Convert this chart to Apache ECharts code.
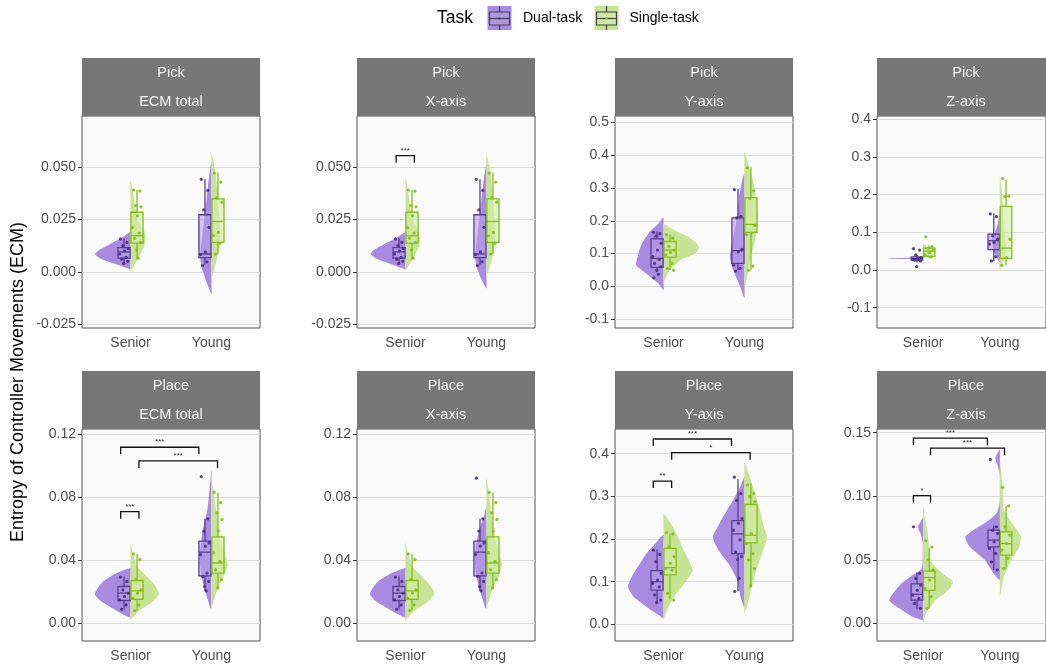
<!DOCTYPE html>
<html>
<head>
<meta charset="utf-8">
<script src="https://cdn.jsdelivr.net/npm/echarts@6/dist/echarts.min.js"></script>
<style>
  html, body { margin: 0; padding: 0; background: #fff; }
  #chart { width: 1046px; height: 666px; }
</style>
</head>
<body>
<div id="chart"></div>
<script>
const categories = ['Senior', 'Young'];
const tasks = ['Dual-task', 'Single-task'];
// group order in every panel: Senior dual, Senior single, Young dual, Young single
// boxes: [lower whisker, q1, median, q3, upper whisker]
// violins: [value, half width in x units]

// Pick / ECM total
const pickTotalTicks = [-0.025, 0, 0.025, 0.05];
const pickTotalBoxes = [
  [0.004, 0.0065, 0.0095, 0.0115, 0.016],
  [0.006, 0.0137, 0.0172, 0.0284, 0.039],
  [0.0035, 0.0068, 0.0085, 0.0272, 0.0441],
  [0.0085, 0.014, 0.024, 0.0348, 0.0473]
];
const pickTotalPoints = [
  [0.0157, 0.014, 0.0125, 0.011, 0.010, 0.0085, 0.0069, 0.006, 0.005, 0.004],
  [0.039, 0.0385, 0.0316, 0.031, 0.0267, 0.021, 0.0185, 0.016, 0.014, 0.0105, 0.0065],
  [0.0441, 0.0388, 0.0295, 0.0212, 0.0095, 0.0082, 0.0048, 0.003],
  [0.0471, 0.0428, 0.0353, 0.0332, 0.0188, 0.0172, 0.0136, 0.0085]
];
const pickTotalViolins = [
  [[0.019, 0], [0.0165, 0.1], [0.0133, 0.25], [0.0105, 0.38], [0.0085, 0.44], [0.0065, 0.38], [0.0045, 0.25], [0.0025, 0.1], [0.0012, 0]],
  [[0.0435, 0], [0.038, 0.03], [0.03, 0.06], [0.024, 0.1], [0.0185, 0.18], [0.015, 0.185], [0.0115, 0.16], [0.0055, 0.08], [0, 0]],
  [[0.0525, 0], [0.045, 0.03], [0.035, 0.06], [0.025, 0.09], [0.015, 0.12], [0.007, 0.14], [0.002, 0.12], [-0.004, 0.07], [-0.0105, 0]],
  [[0.0565, 0], [0.05, 0.04], [0.04, 0.07], [0.03, 0.09], [0.02, 0.11], [0.012, 0.1], [0.005, 0.06], [-0.0028, 0]]
];
const pickTotalBrackets = [];

// Pick / X-axis
const pickXTicks = [-0.025, 0, 0.025, 0.05];
const pickXBoxes = [
  [0.004, 0.0065, 0.0095, 0.0115, 0.016],
  [0.006, 0.0137, 0.0172, 0.0284, 0.039],
  [0.0035, 0.0068, 0.0085, 0.0272, 0.0441],
  [0.0085, 0.014, 0.024, 0.0348, 0.0473]
];
const pickXPoints = [
  [0.0157, 0.014, 0.0125, 0.011, 0.010, 0.0085, 0.0069, 0.006, 0.005, 0.004],
  [0.039, 0.0385, 0.0316, 0.031, 0.0267, 0.021, 0.0185, 0.016, 0.014, 0.0105, 0.0065],
  [0.0441, 0.0388, 0.0295, 0.0212, 0.0095, 0.0082, 0.0048, 0.003],
  [0.0471, 0.0428, 0.0353, 0.0332, 0.0188, 0.0172, 0.0136, 0.0085]
];
const pickXViolins = [
  [[0.019, 0], [0.0165, 0.1], [0.0133, 0.26], [0.0105, 0.39], [0.0085, 0.43], [0.0065, 0.37], [0.0045, 0.24], [0.0025, 0.1], [0.0012, 0]],
  [[0.045, 0], [0.039, 0.03], [0.03, 0.06], [0.024, 0.1], [0.0185, 0.17], [0.015, 0.18], [0.0115, 0.16], [0.0055, 0.08], [0.001, 0]],
  [[0.051, 0], [0.045, 0.03], [0.035, 0.06], [0.025, 0.09], [0.015, 0.12], [0.007, 0.14], [0.002, 0.12], [-0.003, 0.07], [-0.008, 0]],
  [[0.0556, 0], [0.05, 0.04], [0.04, 0.07], [0.03, 0.09], [0.02, 0.11], [0.012, 0.1], [0.005, 0.06], [-0.002, 0]]
];
const pickXBrackets = [[0.883, 1.109, 0.0554, '***']];

// Pick / Y-axis
const pickYTicks = [-0.1, 0, 0.1, 0.2, 0.3, 0.4, 0.5];
const pickYBoxes = [
  [0.05, 0.058, 0.0856, 0.145, 0.168],
  [0.05, 0.089, 0.111, 0.137, 0.158],
  [0.05, 0.07, 0.109, 0.209, 0.297],
  [0.049, 0.165, 0.189, 0.271, 0.364]
];
const pickYPoints = [
  [0.165, 0.161, 0.153, 0.132, 0.111, 0.091, 0.082, 0.07, 0.06, 0.049, 0.037, 0.026],
  [0.158, 0.147, 0.122, 0.111, 0.103, 0.096, 0.07, 0.055, 0.049],
  [0.295, 0.214, 0.209, 0.113, 0.106, 0.065, 0.055, 0.047],
  [0.362, 0.292, 0.268, 0.186, 0.163, 0.158, 0.062, 0.049]
];
const pickYViolins = [
  [[0.21, 0], [0.19, 0.07], [0.17, 0.16], [0.13, 0.27], [0.09, 0.32], [0.065, 0.34], [0.04, 0.22], [0.01, 0.07], [-0.012, 0]],
  [[0.19, 0], [0.173, 0.12], [0.153, 0.29], [0.132, 0.41], [0.118, 0.44], [0.1, 0.39], [0.08, 0.21], [0.05, 0.08], [0.013, 0]],
  [[0.345, 0], [0.32, 0.03], [0.27, 0.07], [0.21, 0.09], [0.15, 0.14], [0.09, 0.18], [0.05, 0.14], [0.01, 0.07], [-0.035, 0]],
  [[0.41, 0], [0.37, 0.05], [0.32, 0.11], [0.27, 0.14], [0.2, 0.17], [0.14, 0.13], [0.09, 0.08], [0.04, 0.04], [-0.012, 0]]
];
const pickYBrackets = [];

// Pick / Z-axis
const pickZTicks = [-0.1, 0, 0.1, 0.2, 0.3, 0.4];
const pickZBoxes = [
  [0.02, 0.026, 0.03, 0.035, 0.04],
  [0.031, 0.036, 0.05, 0.058, 0.065],
  [0.024, 0.054, 0.0777, 0.0955, 0.151],
  [0.0125, 0.031, 0.058, 0.169, 0.24]
];
const pickZPoints = [
  [0.057, 0.053, 0.04, 0.033, 0.031, 0.029, 0.028, 0.026, 0.024, 0.009],
  [0.088, 0.062, 0.058, 0.053, 0.046, 0.04, 0.035],
  [0.149, 0.142, 0.091, 0.082, 0.073, 0.069, 0.035, 0.024],
  [0.243, 0.196, 0.195, 0.082, 0.033, 0.0125]
];
const pickZViolins = [
  [[0.034, 0], [0.0325, 0.1], [0.0316, 0.43], [0.0298, 0.43], [0.029, 0.1], [0.027, 0]],
  [[0.07, 0], [0.06, 0.06], [0.05, 0.12], [0.04, 0.1], [0.032, 0]],
  [[0.16, 0], [0.12, 0.03], [0.08, 0.1], [0.05, 0.08], [0.02, 0]],
  [[0.25, 0], [0.2, 0.03], [0.1, 0.06], [0.05, 0.08], [0.0, 0]]
];
const pickZBrackets = [];

// Place / ECM total
const placeTotalTicks = [0, 0.04, 0.08, 0.12];
const placeTotalBoxes = [
  [0.0087, 0.0143, 0.019, 0.0232, 0.0296],
  [0.0079, 0.0151, 0.0204, 0.027, 0.0439],
  [0.0204, 0.030, 0.045, 0.052, 0.0662],
  [0.0222, 0.0317, 0.0381, 0.0547, 0.0829]
];
const placeTotalPoints = [
  [0.0292, 0.0264, 0.021, 0.019, 0.0168, 0.0147, 0.0115, 0.0087],
  [0.0439, 0.0403, 0.0275, 0.0211, 0.019, 0.0158, 0.0115, 0.0079],
  [0.093, 0.0662, 0.0584, 0.0509, 0.0488, 0.0435, 0.0317, 0.0296, 0.0264, 0.0232, 0.0204],
  [0.0829, 0.0765, 0.070, 0.0658, 0.0584, 0.0445, 0.0392, 0.0339, 0.0275, 0.0222]
];
const placeTotalViolins = [
  [[0.035, 0], [0.0317, 0.17], [0.0264, 0.34], [0.021, 0.42], [0.018, 0.44], [0.0136, 0.36], [0.0083, 0.19], [0.0045, 0.05], [0.0035, 0]],
  [[0.05, 0], [0.0445, 0.03], [0.036, 0.08], [0.0317, 0.16], [0.0253, 0.28], [0.019, 0.35], [0.0136, 0.28], [0.0083, 0.12], [0.003, 0.02], [0.001, 0]],
  [[0.097, 0], [0.087, 0.02], [0.072, 0.05], [0.057, 0.115], [0.04, 0.145], [0.0275, 0.115], [0.019, 0.07], [0.0105, 0.02], [0.009, 0]],
  [[0.09, 0], [0.083, 0.03], [0.07, 0.06], [0.057, 0.09], [0.0445, 0.16], [0.037, 0.2], [0.0296, 0.15], [0.021, 0.07], [0.0126, 0.02], [0.011, 0]]
];
const placeTotalBrackets = [
  [0.878, 1.104, 0.0707, '***'],
  [0.878, 1.844, 0.1116, '***'],
  [1.104, 2.075, 0.1029, '***']
];

// Place / X-axis
const placeXTicks = [0, 0.04, 0.08, 0.12];
const placeXBoxes = [
  [0.0087, 0.0143, 0.019, 0.0232, 0.0296],
  [0.0079, 0.0151, 0.0204, 0.027, 0.0439],
  [0.0204, 0.030, 0.045, 0.052, 0.0662],
  [0.0222, 0.0317, 0.0381, 0.0547, 0.0829]
];
const placeXPoints = [
  [0.0292, 0.0264, 0.021, 0.019, 0.0168, 0.0147, 0.0115, 0.0087],
  [0.0439, 0.0403, 0.0275, 0.0211, 0.019, 0.0158, 0.0115, 0.0079],
  [0.092, 0.0662, 0.0584, 0.0509, 0.0488, 0.0435, 0.0317, 0.0296, 0.0264, 0.0232, 0.0204],
  [0.0829, 0.0765, 0.070, 0.0658, 0.0584, 0.0445, 0.0392, 0.0339, 0.0275, 0.0222]
];
const placeXViolins = [
  [[0.035, 0], [0.0317, 0.17], [0.0264, 0.34], [0.021, 0.42], [0.018, 0.44], [0.0136, 0.36], [0.0083, 0.19], [0.0045, 0.05], [0.0035, 0]],
  [[0.051, 0], [0.0445, 0.03], [0.036, 0.08], [0.0317, 0.16], [0.0253, 0.28], [0.019, 0.36], [0.0136, 0.28], [0.0083, 0.12], [0.003, 0.02], [0.0005, 0]],
  [[0.074, 0], [0.068, 0.03], [0.057, 0.1], [0.04, 0.145], [0.0275, 0.115], [0.019, 0.07], [0.0105, 0.02], [0.009, 0]],
  [[0.092, 0], [0.083, 0.03], [0.07, 0.06], [0.057, 0.09], [0.0445, 0.16], [0.037, 0.19], [0.0296, 0.15], [0.021, 0.07], [0.0126, 0.02], [0.011, 0]]
];
const placeXBrackets = [];

// Place / Y-axis
const placeYTicks = [0, 0.1, 0.2, 0.3, 0.4];
const placeYBoxes = [
  [0.051, 0.0805, 0.1, 0.126, 0.176],
  [0.059, 0.116, 0.133, 0.178, 0.213],
  [0.077, 0.166, 0.212, 0.243, 0.34],
  [0.09, 0.191, 0.209, 0.281, 0.33]
];
const placeYPoints = [
  [0.174, 0.164, 0.147, 0.12, 0.104, 0.096, 0.088, 0.069, 0.057, 0.051],
  [0.215, 0.212, 0.182, 0.159, 0.143, 0.131, 0.127, 0.073, 0.057],
  [0.345, 0.307, 0.291, 0.248, 0.237, 0.221, 0.198, 0.17, 0.159, 0.152, 0.108, 0.077],
  [0.327, 0.307, 0.299, 0.288, 0.213, 0.19, 0.166, 0.151, 0.131, 0.09]
];
const placeYViolins = [
  [[0.21, 0], [0.19, 0.1], [0.166, 0.21], [0.143, 0.29], [0.112, 0.39], [0.088, 0.44], [0.065, 0.37], [0.041, 0.21], [0.022, 0.06], [0.014, 0]],
  [[0.26, 0], [0.245, 0.06], [0.213, 0.16], [0.182, 0.23], [0.151, 0.31], [0.127, 0.36], [0.104, 0.29], [0.073, 0.16], [0.041, 0.06], [0.014, 0]],
  [[0.346, 0], [0.323, 0.05], [0.291, 0.14], [0.26, 0.24], [0.229, 0.33], [0.205, 0.39], [0.174, 0.32], [0.143, 0.2], [0.104, 0.09], [0.065, 0.05], [0.04, 0]],
  [[0.381, 0], [0.354, 0.05], [0.307, 0.13], [0.268, 0.19], [0.229, 0.24], [0.205, 0.28], [0.174, 0.23], [0.135, 0.16], [0.088, 0.09], [0.049, 0.04], [0.026, 0]]
];
const placeYBrackets = [
  [0.873, 1.1, 0.336, '**'],
  [0.873, 1.84, 0.4345, '***'],
  [1.1, 2.07, 0.4024, '*']
];

// Place / Z-axis
const placeZTicks = [0, 0.05, 0.1, 0.15];
const placeZBoxes = [
  [0.011, 0.0183, 0.0228, 0.031, 0.04],
  [0.0118, 0.026, 0.036, 0.041, 0.059],
  [0.042, 0.0602, 0.0655, 0.0733, 0.077],
  [0.0427, 0.0537, 0.0628, 0.072, 0.0924]
];
const placeZPoints = [
  [0.076, 0.0393, 0.0353, 0.030, 0.026, 0.0223, 0.0196, 0.0157, 0.0118],
  [0.065, 0.06, 0.05, 0.042, 0.034, 0.0275, 0.021, 0.0118],
  [0.129, 0.0759, 0.0733, 0.0707, 0.0641, 0.0589, 0.055, 0.0484, 0.042],
  [0.107, 0.0924, 0.0759, 0.0694, 0.0628, 0.0576, 0.051, 0.0432]
];
const placeZViolins = [
  [[0.083, 0], [0.08, 0.03], [0.076, 0.07], [0.071, 0.035], [0.064, 0.006], [0.05, 0.006], [0.043, 0.02], [0.039, 0.11], [0.031, 0.29], [0.0236, 0.39], [0.018, 0.44], [0.0118, 0.31], [0.005, 0.13], [0.0026, 0]],
  [[0.092, 0], [0.084, 0.02], [0.071, 0.06], [0.058, 0.08], [0.047, 0.12], [0.039, 0.26], [0.0327, 0.39], [0.026, 0.33], [0.018, 0.16], [0.0079, 0.04], [0, 0]],
  [[0.137, 0], [0.134, 0.03], [0.13, 0.06], [0.124, 0.03], [0.118, 0.004], [0.095, 0.004], [0.087, 0.04], [0.08, 0.17], [0.074, 0.33], [0.068, 0.45], [0.06, 0.39], [0.05, 0.2], [0.039, 0.08], [0.034, 0]],
  [[0.128, 0], [0.118, 0.02], [0.102, 0.04], [0.089, 0.05], [0.081, 0.13], [0.069, 0.27], [0.06, 0.25], [0.05, 0.15], [0.037, 0.05], [0.024, 0.01], [0.021, 0]]
];
const placeZBrackets = [
  [0.874, 1.097, 0.1005, '*'],
  [0.874, 1.837, 0.1457, '***'],
  [1.097, 2.06, 0.1378, '***']
];

const panels = [
  { task: 'Pick', axis: 'ECM total', min: -0.0268, max: 0.0743, dec: 3, ticks: pickTotalTicks, boxes: pickTotalBoxes, points: pickTotalPoints, violins: pickTotalViolins, brackets: pickTotalBrackets },
  { task: 'Pick', axis: 'X-axis', min: -0.0268, max: 0.0743, dec: 3, ticks: pickXTicks, boxes: pickXBoxes, points: pickXPoints, violins: pickXViolins, brackets: pickXBrackets },
  { task: 'Pick', axis: 'Y-axis', min: -0.127, max: 0.52, dec: 1, ticks: pickYTicks, boxes: pickYBoxes, points: pickYPoints, violins: pickYViolins, brackets: pickYBrackets },
  { task: 'Pick', axis: 'Z-axis', min: -0.154, max: 0.409, dec: 1, ticks: pickZTicks, boxes: pickZBoxes, points: pickZPoints, violins: pickZViolins, brackets: pickZBrackets },
  { task: 'Place', axis: 'ECM total', min: -0.0114, max: 0.1232, dec: 2, ticks: placeTotalTicks, boxes: placeTotalBoxes, points: placeTotalPoints, violins: placeTotalViolins, brackets: placeTotalBrackets },
  { task: 'Place', axis: 'X-axis', min: -0.0114, max: 0.1232, dec: 2, ticks: placeXTicks, boxes: placeXBoxes, points: placeXPoints, violins: placeXViolins, brackets: placeXBrackets },
  { task: 'Place', axis: 'Y-axis', min: -0.039, max: 0.458, dec: 1, ticks: placeYTicks, boxes: placeYBoxes, points: placeYPoints, violins: placeYViolins, brackets: placeYBrackets },
  { task: 'Place', axis: 'Z-axis', min: -0.0139, max: 0.1529, dec: 2, ticks: placeZTicks, boxes: placeZBoxes, points: placeZPoints, violins: placeZViolins, brackets: placeZBrackets }
];

const FONT = '"Liberation Sans", Arial, sans-serif';
const colLeft = [82, 357, 615, 877];
const rowTop = [116, 429];
const panelW = 178, panelH = 212, stripH = 58;
const violinColor = ['#a88be0', '#c7e396'];
const boxFill = ['rgba(183,158,234,0.6)', 'rgba(214,236,168,0.6)'];
const boxStroke = ['#5a3e92', '#86bd1b'];
const pointColor = ['#4a2d82', '#84bb17'];
const jitter = [-0.045, 0.035, -0.015, 0.05, 0.005, -0.055, 0.025, -0.03, 0.045, -0.005, 0.015, -0.04];

const center = g => Math.floor(g / 2) + 1;
const side = g => (g % 2 === 0 ? -1 : 1);

const series = [];
panels.forEach((p, i) => {
  const axes = { xAxisIndex: i, yAxisIndex: i, silent: true };
  // half violins
  series.push({
    type: 'custom', ...axes, z: 1,
    data: p.violins.map((v, g) => [center(g), v[0][0], g]),
    renderItem: (params, api) => {
      const g = api.value(2);
      const knots = p.violins[g];
      const c = center(g), s = side(g);
      const outer = knots.map(k => api.coord([c + s * k[1], k[0]]));
      const inner = knots.slice(1, -1).reverse().map(k => api.coord([c, k[0]]));
      return {
        type: 'polygon',
        shape: { points: outer.concat(inner), smooth: 0.2 },
        style: { fill: violinColor[g % 2] }
      };
    }
  });
  // boxplots
  series.push({
    type: 'custom', ...axes, z: 2,
    data: p.boxes.map((b, g) => [center(g), b[2], g]),
    renderItem: (params, api) => {
      const g = api.value(2);
      const b = p.boxes[g];
      const c = center(g), s = side(g);
      const xm = c + s * 0.08;
      const xa = Math.min(c + s * 0.005, c + s * 0.155), xb = Math.max(c + s * 0.005, c + s * 0.155);
      const lo = api.coord([xm, b[0]]), q1 = api.coord([xm, b[1]]);
      const q3 = api.coord([xm, b[3]]), hi = api.coord([xm, b[4]]);
      const tl = api.coord([xa, b[3]]), br = api.coord([xb, b[1]]);
      const ml = api.coord([xa, b[2]]), mr = api.coord([xb, b[2]]);
      const ls = { stroke: boxStroke[g % 2], lineWidth: 1.3 };
      return {
        type: 'group',
        children: [
          { type: 'line', shape: { x1: lo[0], y1: lo[1], x2: q1[0], y2: q1[1] }, style: ls },
          { type: 'line', shape: { x1: q3[0], y1: q3[1], x2: hi[0], y2: hi[1] }, style: ls },
          { type: 'rect', shape: { x: tl[0], y: tl[1], width: br[0] - tl[0], height: br[1] - tl[1] },
            style: { fill: boxFill[g % 2], stroke: boxStroke[g % 2], lineWidth: 1.3 } },
          { type: 'line', shape: { x1: ml[0], y1: ml[1], x2: mr[0], y2: mr[1] }, style: ls }
        ]
      };
    }
  });
  // jittered points
  [0, 1].forEach(t => {
    const data = [];
    [t, t + 2].forEach(g => {
      p.points[g].forEach((v, k) => data.push([center(g) + side(g) * 0.08 + jitter[k % jitter.length], v]));
    });
    series.push({
      type: 'scatter', ...axes, z: 3, name: tasks[t],
      symbolSize: 3.2, itemStyle: { color: pointColor[t], opacity: 0.9 },
      data
    });
  });
  // significance brackets
  if (p.brackets.length) {
    series.push({
      type: 'custom', ...axes, z: 4,
      data: p.brackets.map((b, k) => [b[0], b[2], k]),
      renderItem: (params, api) => {
        const b = p.brackets[api.value(2)];
        const a = api.coord([b[0], b[2]]), e = api.coord([b[1], b[2]]);
        return {
          type: 'group',
          children: [
            { type: 'polyline', shape: { points: [[a[0], a[1] + 7], a, e, [e[0], e[1] + 7]] },
              style: { stroke: '#111', lineWidth: 1.3, fill: null } },
            { type: 'text', x: (a[0] + e[0]) / 2, y: a[1] - 1,
              style: { text: b[3], fontSize: 8, fill: '#333', align: 'center', verticalAlign: 'bottom', fontFamily: FONT } }
          ]
        };
      }
    });
  }
});

// facet strips, legend and axis title
const graphic = [];
panels.forEach((p, i) => {
  const x = colLeft[i % 4], y = rowTop[Math.floor(i / 4)] - stripH;
  graphic.push({ type: 'rect', x, y, shape: { width: panelW, height: stripH }, style: { fill: '#777777' }, silent: true });
  graphic.push({ type: 'text', x: x + panelW / 2, y: y + 15,
    style: { text: p.task, fontSize: 14.5, fill: '#f5f5f5', align: 'center', verticalAlign: 'middle', fontFamily: FONT } });
  graphic.push({ type: 'text', x: x + panelW / 2, y: y + 44,
    style: { text: p.axis, fontSize: 14.5, fill: '#f5f5f5', align: 'center', verticalAlign: 'middle', fontFamily: FONT } });
});
graphic.push({ type: 'text', x: 18, y: 382, rotation: Math.PI / 2,
  style: { text: 'Entropy of Controller Movements (ECM)', fontSize: 18, fill: '#000', align: 'center', verticalAlign: 'middle', fontFamily: FONT } });
graphic.push({ type: 'text', x: 437, y: 18,
  style: { text: 'Task', fontSize: 17.5, fill: '#000', align: 'left', verticalAlign: 'middle', fontFamily: FONT } });
const keyX = [487.5, 594.5], labelX = [523, 629.5];
[0, 1].forEach(t => {
  const kx = keyX[t];
  graphic.push({ type: 'group', x: kx, y: 6, silent: true, children: [
    { type: 'rect', shape: { x: 0, y: 0, width: 24, height: 24 }, style: { fill: violinColor[t] } },
    { type: 'line', shape: { x1: 12, y1: 0, x2: 12, y2: 6 }, style: { stroke: '#444', lineWidth: 1.2 } },
    { type: 'line', shape: { x1: 12, y1: 19, x2: 12, y2: 24 }, style: { stroke: '#444', lineWidth: 1.2 } },
    { type: 'rect', shape: { x: 2, y: 6, width: 20, height: 13 }, style: { fill: boxFill[t], stroke: '#444', lineWidth: 1.2 } },
    { type: 'line', shape: { x1: 2, y1: 12.5, x2: 22, y2: 12.5 }, style: { stroke: '#444', lineWidth: 1.2 } },
    { type: 'circle', shape: { cx: 12, cy: 12.5, r: 1 }, style: { fill: pointColor[t] } }
  ] });
  graphic.push({ type: 'text', x: labelX[t], y: 18,
    style: { text: tasks[t], fontSize: 14, fill: '#000', align: 'left', verticalAlign: 'middle', fontFamily: FONT } });
});

const option = {
  animation: false,
  textStyle: { fontFamily: FONT },
  grid: panels.map((p, i) => ({
    left: colLeft[i % 4], top: rowTop[Math.floor(i / 4)], width: panelW, height: panelH,
    show: true, backgroundColor: '#fafafa', borderColor: '#555', borderWidth: 1, containLabel: false
  })),
  xAxis: panels.map((p, i) => ({
    gridIndex: i, type: 'value', min: 0.4, max: 2.6,
    axisLine: { show: false }, axisTick: { show: false }, splitLine: { show: false },
    axisLabel: { customValues: [1, 2], formatter: v => categories[Math.round(v) - 1], color: '#4d4d4d', fontSize: 14, margin: 8 }
  })),
  yAxis: panels.map((p, i) => ({
    gridIndex: i, type: 'value', min: p.min, max: p.max,
    axisLine: { show: false },
    axisTick: { show: true, length: 4, customValues: p.ticks, lineStyle: { color: '#333' } },
    axisLabel: { customValues: p.ticks, formatter: v => v.toFixed(p.dec), color: '#4d4d4d', fontSize: 14, margin: 6 },
    splitLine: { show: true, lineStyle: { color: '#dcdcdc', width: 1.2 } }
  })),
  graphic,
  series
};

const chart = echarts.init(document.getElementById('chart'), null, { renderer: 'canvas' });
chart.setOption(option);
</script>
</body>
</html>
